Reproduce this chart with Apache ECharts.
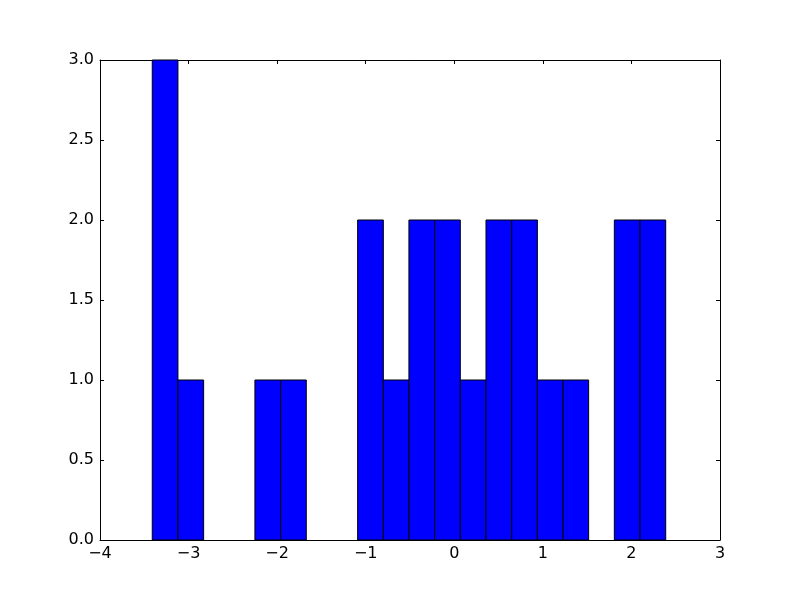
<!DOCTYPE html>
<html>
<head>
<meta charset="utf-8">
<script src="https://cdn.jsdelivr.net/npm/echarts@6/dist/echarts.min.js"></script>
<style>html,body{margin:0;padding:0;background:#fff;}#c{width:800px;height:600px;}</style>
</head>
<body>
<div id="c"></div>
<script>
const binEdges = [-3.410, -3.120, -2.830, -2.540, -2.251, -1.961, -1.671, -1.381, -1.091, -0.801, -0.512, -0.222, 0.068, 0.358, 0.648, 0.938, 1.227, 1.517, 1.807, 2.097, 2.387];
const counts = [3, 1, 0, 0, 1, 1, 0, 0, 2, 1, 2, 2, 1, 2, 2, 1, 1, 0, 2, 2];
const xTicks = [-4, -3, -2, -1, 0, 1, 2, 3];
const yTicks = [0.0, 0.5, 1.0, 1.5, 2.0, 2.5, 3.0];

const data = counts.map((c, i) => [binEdges[i], binEdges[i + 1], c]);
const fmtX = v => (v < 0 ? '\u2212' + Math.abs(v) : String(v));
const font = 'DejaVu Sans';
const chart = echarts.init(document.getElementById('c'), null, {renderer: 'canvas'});
const tickStyle = {show: true, inside: true, length: 4, lineStyle: {color: '#000', width: 1}};
chart.setOption({
  animation: false,
  backgroundColor: '#fff',
  grid: {left: 100, right: 80, top: 60, bottom: 60, containLabel: false},
  xAxis: [{
    type: 'value', min: xTicks[0], max: xTicks[xTicks.length - 1], interval: 1, position: 'bottom',
    axisLine: {show: true, onZero: false, lineStyle: {color: '#000', width: 1}},
    axisTick: tickStyle, splitLine: {show: false},
    axisLabel: {color: '#000', fontFamily: font, fontSize: 16, margin: 6, formatter: fmtX}
  }, {
    type: 'value', min: xTicks[0], max: xTicks[xTicks.length - 1], interval: 1, position: 'top',
    axisLine: {show: true, onZero: false, lineStyle: {color: '#000', width: 1}},
    axisTick: tickStyle, splitLine: {show: false}, axisLabel: {show: false}
  }],
  yAxis: [{
    type: 'value', min: yTicks[0], max: yTicks[yTicks.length - 1], interval: 0.5, position: 'left',
    axisLine: {show: true, onZero: false, lineStyle: {color: '#000', width: 1}},
    axisTick: tickStyle, splitLine: {show: false},
    axisLabel: {color: '#000', fontFamily: font, fontSize: 16, margin: 6, formatter: v => v.toFixed(1)}
  }, {
    type: 'value', min: yTicks[0], max: yTicks[yTicks.length - 1], interval: 0.5, position: 'right',
    axisLine: {show: true, onZero: false, lineStyle: {color: '#000', width: 1}},
    axisTick: tickStyle, splitLine: {show: false}, axisLabel: {show: false}
  }],
  series: [{
    type: 'custom',
    xAxisIndex: 0, yAxisIndex: 0,
    data: data,
    encode: {x: [0, 1], y: 2},
    renderItem: function (params, api) {
      const h = api.value(2);
      if (!h) return null;
      const p0 = api.coord([api.value(0), 0]);
      const p1 = api.coord([api.value(1), h]);
      return {
        type: 'rect',
        shape: {x: p0[0], y: p1[1], width: p1[0] - p0[0], height: p0[1] - p1[1]},
        style: {fill: '#0000ff', stroke: '#000', lineWidth: 1}
      };
    }
  }]
});
</script>
</body>
</html>
